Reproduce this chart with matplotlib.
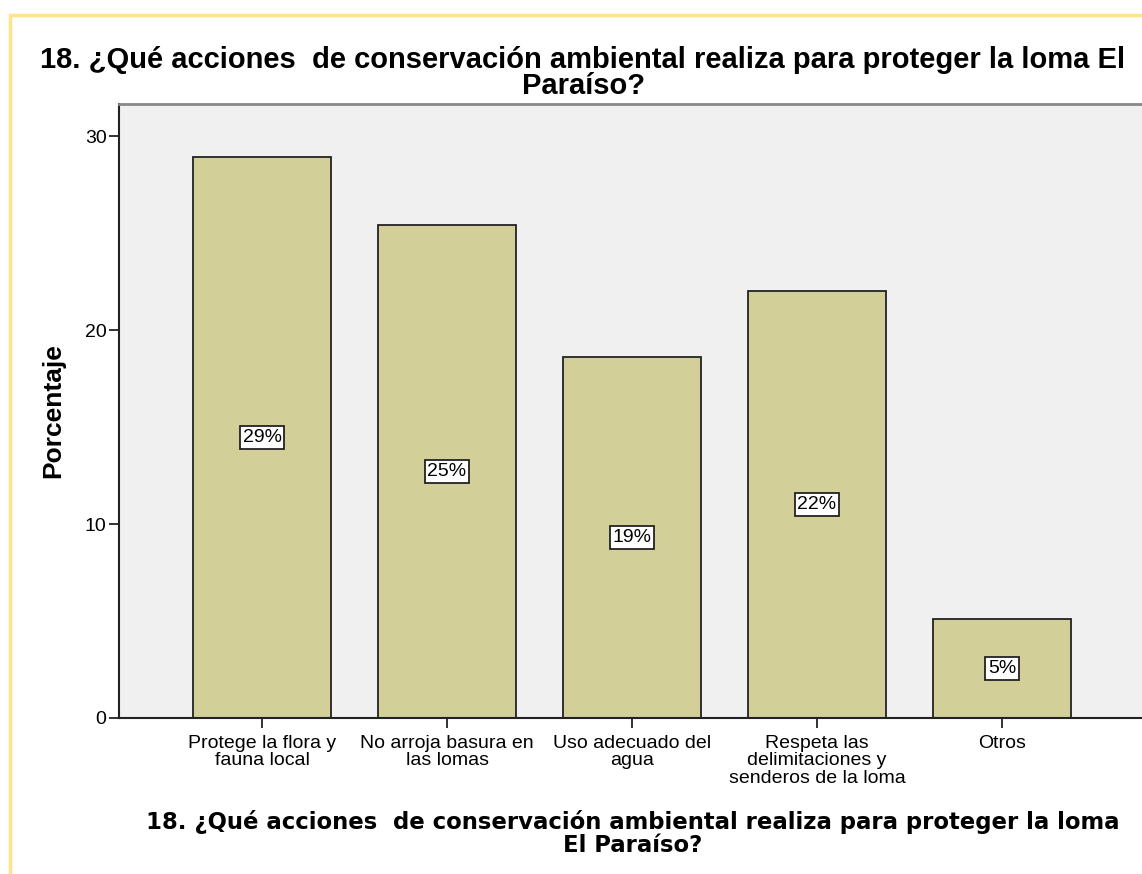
import matplotlib.pyplot as plt
from matplotlib.patches import Rectangle

# data
categories = ['Protege la flora y\nfauna local', 'No arroja basura en\nlas lomas',
              'Uso adecuado del\nagua', 'Respeta las\ndelimitaciones y\nsenderos de la loma',
              'Otros']
values = [28.9, 25.4, 18.6, 22.0, 5.1]
labels = ['29%', '25%', '19%', '22%', '5%']
yticks = [0, 10, 20, 30]

title = '18. ¿Qué acciones  de conservación ambiental realiza para proteger la loma El\nParaíso?'
xtitle = '18. ¿Qué acciones  de conservación ambiental realiza para proteger la loma\nEl Paraíso?'

W, H = 1142, 874
fig = plt.figure(figsize=(W / 100, H / 100), dpi=100)
plt.rcParams['font.family'] = ['Liberation Sans', 'DejaVu Sans']

# yellow frame around the chart
fig.patches.append(Rectangle((10 / W, -0.1), 2, (H - 15) / H + 0.1, transform=fig.transFigure,
                             fill=False, edgecolor='#FFE48C', lw=2.5))

ax = fig.add_axes([119 / W, (H - 718) / H, (1145 - 119) / W, (718 - 104) / H])
ax.set_facecolor('#F0F0F0')

x = range(len(values))
ax.bar(x, values, width=0.746, color='#D3CF98', edgecolor='#222222', linewidth=1.3, zorder=2)
for i, v in enumerate(values):
    ax.text(i, v / 2, labels[i], ha='center', va='center', fontsize=14, zorder=3,
            bbox=dict(boxstyle='square,pad=0.15', facecolor='white', edgecolor='#222222', lw=1.3))

ax.set_xlim(-0.773, len(values) - 1 + 0.773)
ax.set_ylim(0, 31.65)
ax.set_yticks(yticks)
ax.set_xticks(list(x))
ax.set_xticklabels(categories, fontsize=14, linespacing=1.05)
ax.tick_params(axis='y', direction='out', length=7, width=1.3, labelsize=14, color='#222222', pad=2)
ax.tick_params(axis='x', direction='out', length=7, width=1.3, color='#222222', pad=5)

for s in ['left', 'bottom']:
    ax.spines[s].set_color('#222222')
    ax.spines[s].set_linewidth(1.5)
ax.spines['top'].set_color('#888888')
ax.spines['top'].set_linewidth(2)
ax.spines['right'].set_visible(False)

ax.set_ylabel('Porcentaje', fontsize=19, fontweight='bold')
ax.yaxis.set_label_coords(-54 / (1145 - 119), 0.5)

fig.text(583 / W, 1 - 73 / H, title, ha='center', va='center', fontsize=21,
         fontweight='bold', linespacing=0.9)
fig.text(633 / W, 1 - 833 / H, xtitle, ha='center', va='center', fontsize=16.4,
         fontweight='bold', family='DejaVu Sans', linespacing=1.0)

fig.savefig('out.png', dpi=100)
